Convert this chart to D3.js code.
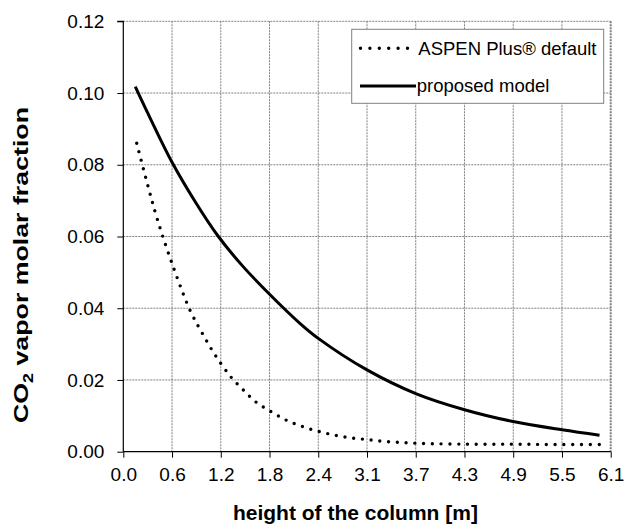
<!DOCTYPE html>
<html>
<head>
<meta charset="utf-8">
<script src="https://cdn.jsdelivr.net/npm/d3@7"></script>
<style>
html,body{margin:0;padding:0;background:#fff;}
svg{display:block;font-family:"Liberation Sans",Arial,sans-serif;}
</style>
</head>
<body>
<svg id="chart" width="625" height="529"></svg>
<script>
// ---- data ----
const heightDefault = [0.168, 0.30, 0.426, 0.635, 0.838, 0.989, 1.157, 1.348, 1.498, 1.657, 1.84, 2.03, 2.23, 2.44, 2.65, 2.87, 3.09, 3.30, 3.54, 3.75, 4.31, 4.88, 5.40, 5.96];
const co2Default    = [0.0860, 0.0748, 0.0648, 0.0509, 0.0393, 0.0330, 0.0267, 0.0208, 0.0173, 0.0139, 0.0113, 0.0089, 0.0071, 0.0057, 0.0046, 0.0038, 0.0033, 0.0028, 0.0025, 0.0023, 0.0021, 0.0021, 0.0020, 0.0020];
const heightModel = [0.15, 0.30, 0.61, 0.90, 1.19, 1.50, 1.84, 2.21, 2.44, 3.05, 3.66, 4.27, 4.88, 5.49, 5.96];
const co2Model    = [0.1018, 0.0947, 0.0807, 0.0697, 0.0600, 0.0516, 0.0437, 0.0358, 0.0316, 0.0228, 0.0162, 0.0117, 0.0084, 0.0061, 0.0046];
const xTickValues = [0, 0.61, 1.22, 1.83, 2.44, 3.05, 3.66, 4.27, 4.88, 5.49, 6.1];
const xTickLabels = ["0.0", "0.6", "1.2", "1.8", "2.4", "3.1", "3.7", "4.3", "4.9", "5.5", "6.1"];
const yTickValues = [0, 0.02, 0.04, 0.06, 0.08, 0.10, 0.12];
const seriesNames = ["ASPEN Plus\u00AE default", "proposed model"];
const xTitle = "height of the column [m]";
const yTitleParts = ["CO", "2", " vapor molar fraction"];

// ---- layout ----
const L = 123.3, R = 610.7, T = 21.3, B = 451.7;
const svg = d3.select("#chart");
const x = d3.scaleLinear().domain([0, 6.1]).range([L, R]);
const y = d3.scaleLinear().domain([0, 0.12]).range([B, T]);

// grid
const grid = svg.append("g");
grid.selectAll("line.gy").data(yTickValues.filter(v => v > 0)).join("line")
  .attr("x1", L).attr("x2", R).attr("y1", d => y(d)).attr("y2", d => y(d))
  .attr("stroke", "#808080").attr("stroke-width", 1).attr("stroke-dasharray", "2,1");
grid.selectAll("line.gx").data(xTickValues.filter(v => v > 0)).join("line")
  .attr("x1", d => x(d)).attr("x2", d => x(d)).attr("y1", T).attr("y2", B)
  .attr("stroke", "#808080").attr("stroke-width", (d, i, n) => i === n.length - 1 ? 2 : 1)
  .attr("stroke-dasharray", "2,1");

// axes
const yAxis = d3.axisLeft(y).tickValues(yTickValues).tickFormat(d3.format(".2f")).tickSize(6).tickPadding(13);
const xAxis = d3.axisBottom(x).tickValues(xTickValues).tickFormat((d, i) => xTickLabels[i]).tickSize(6).tickPadding(10);
const gy = svg.append("g").attr("transform", `translate(${L},0)`).call(yAxis);
const gx = svg.append("g").attr("transform", `translate(0,${B})`).call(xAxis);
[gx, gy].forEach(g => {
  g.select(".domain").attr("stroke", "#000").attr("stroke-width", 1.2);
  g.selectAll(".tick line").attr("stroke", "#000").attr("stroke-width", 1);
  g.selectAll(".tick text").attr("font-size", 19).attr("fill", "#000")
    .attr("font-family", "'Liberation Sans', Arial, sans-serif");
});
gy.select(".domain").attr("d", `M-6,${T}H0V${B}`);
gx.select(".domain").attr("d", `M${L},0H${R}`);
gx.selectAll(".tick text").attr("dy", "0.71em");

// lines
const lineGen = d3.line().x(d => x(d[0])).y(d => y(d[1])).curve(d3.curveCatmullRom.alpha(0.5));
const defaultPts = heightDefault.map((h, i) => [h, co2Default[i]]);
const modelPts = heightModel.map((h, i) => [h, co2Model[i]]);
svg.append("path").attr("d", lineGen(defaultPts)).attr("fill", "none")
  .attr("stroke", "#000").attr("stroke-width", 3.4).attr("stroke-linecap", "round")
  .attr("stroke-dasharray", "0,8.77");
svg.append("path").attr("d", lineGen(modelPts)).attr("fill", "none")
  .attr("stroke", "#000").attr("stroke-width", 3);

// legend
const lg = svg.append("g");
lg.append("rect").attr("x", 351.7).attr("y", 29.3).attr("width", 252).attr("height", 74)
  .attr("fill", "#fff").attr("stroke", "#808080").attr("stroke-width", 1);
lg.append("line").attr("x1", 360.5).attr("x2", 407.5).attr("y1", 48.3).attr("y2", 48.3)
  .attr("stroke", "#000").attr("stroke-width", 3.4).attr("stroke-linecap", "round")
  .attr("stroke-dasharray", "0,9.4");
lg.append("line").attr("x1", 360).attr("x2", 416).attr("y1", 86).attr("y2", 86)
  .attr("stroke", "#000").attr("stroke-width", 3);
lg.selectAll("text").data(seriesNames).join("text")
  .attr("x", (d, i) => i === 0 ? 418.3 : 416.7).attr("y", (d, i) => i === 0 ? 48.3 : 86)
  .attr("dy", "0.35em").attr("font-size", 18.5).attr("fill", "#000").text(d => d);

// titles
svg.append("text").attr("x", 355.4).attr("y", 520).attr("text-anchor", "middle")
  .attr("font-size", 21).attr("font-weight", "bold").attr("fill", "#000").text(xTitle);
const yt = svg.append("text").attr("transform", "translate(28.3,265) rotate(-90)")
  .attr("x", -158).attr("text-anchor", "start")
  .attr("textLength", 316).attr("lengthAdjust", "spacingAndGlyphs")
  .attr("font-size", 21).attr("font-weight", "bold").attr("fill", "#000");
yt.append("tspan").text(yTitleParts[0]);
yt.append("tspan").attr("font-size", 14).attr("dy", 5).text(yTitleParts[1]);
yt.append("tspan").attr("dy", -5).text(yTitleParts[2]);
</script>
</body>
</html>
